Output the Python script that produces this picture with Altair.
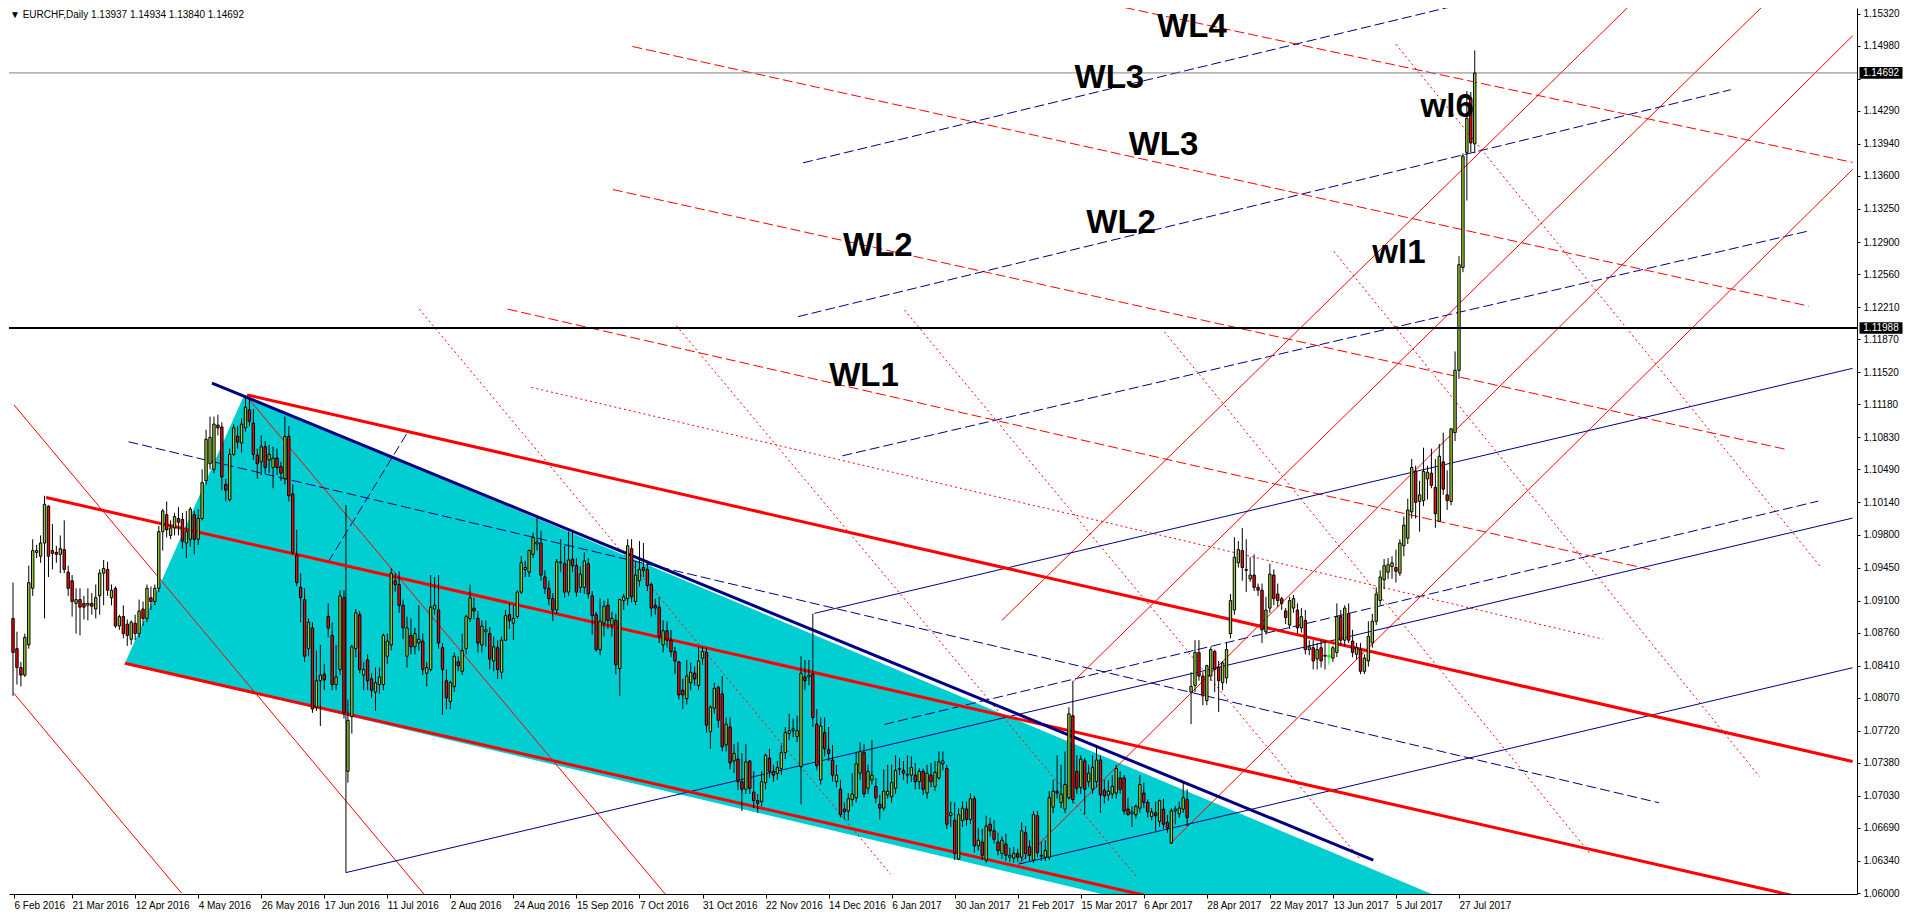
import altair as alt
import pandas as pd

# ---------------- data ----------------
# daily candles, bar index 1..372; prices given as 1/10000 above 1.0000 (price = 1 + v/10000)
OPEN = [
    891, 859, 839, 831, 863, 923, 961, 957, 971, 1010,
    963, 961, 959, 964, 940, 931, 907, 911, 907, 905,
    907, 901, 915, 939, 943, 913, 923, 883, 893, 885,
    869, 886, 875, 901, 891, 913, 909, 923, 983, 1001,
    979, 987, 997, 996, 971, 975, 1001, 975, 997, 1037,
    1055, 1049, 1096, 1094, 1033, 1017, 1065, 1084, 1077, 1093,
    1112, 1098, 1064, 1057, 1073, 1059, 1051, 1061, 1052, 1039,
    1084, 1023, 958, 924, 911, 859, 881, 797, 825, 832,
    893, 873, 821, 837, 913, 729, 787, 859, 895, 831,
    847, 827, 813, 821, 821, 851, 863, 931, 927, 905,
    851, 873, 861, 865, 867, 833, 837, 901, 900, 860,
    825, 803, 819, 845, 835, 859, 891, 902, 891, 863,
    877, 875, 846, 860, 834, 868, 895, 886, 893, 919,
    943, 940, 959, 970, 971, 935, 923, 912, 900, 950,
    949, 919, 954, 947, 924, 924, 949, 915, 895, 858,
    886, 905, 884, 889, 838, 910, 912, 965, 909, 931,
    945, 943, 927, 905, 903, 863, 878, 868, 856, 845,
    815, 806, 823, 833, 820, 849, 855, 771, 796, 818,
    811, 757, 776, 740, 742, 718, 710, 740, 707, 698,
    697, 717, 743, 729, 727, 732, 749, 769, 772, 766,
    734, 829, 829, 832, 779, 720, 770, 752, 741, 718,
    710, 689, 687, 699, 701, 727, 749, 711, 720, 713,
    694, 690, 704, 702, 711, 731, 730, 726, 725, 725,
    718, 729, 706, 725, 713, 722, 737, 732, 682, 677,
    636, 677, 689, 678, 700, 650, 654, 635, 673, 666,
    654, 642, 652, 638, 637, 642, 638, 664, 649, 635,
    682, 639, 638, 638, 691, 708, 696, 689, 701, 788,
    729, 712, 740, 718, 710, 718, 741, 709, 704, 705,
    706, 722, 722, 689, 684, 683, 690, 706, 696, 681,
    685, 676, 689, 675, 653, 687, 684, 689, 699, 813,
    820, 855, 830, 804, 830, 856, 839, 823, 828, 875,
    900, 950, 963, 943, 933, 937, 924, 921, 877, 902,
    937, 917, 912, 899, 884, 902, 900, 881, 889, 858,
    860, 848, 860, 851, 850, 849, 855, 893, 868, 896,
    867, 853, 858, 835, 846, 865, 888, 910, 932, 940,
    946, 945, 939, 968, 976, 1004, 1047, 1015, 1016, 1039,
    1045, 1030, 994, 1057, 1022, 1015, 1088, 1154, 1263, 1385,
    1442, 1394,
]
HIGH = [
    929, 877, 845, 875, 947, 975, 969, 979, 1021, 1011,
    991, 968, 979, 995, 947, 937, 923, 923, 915, 923,
    918, 927, 943, 953, 951, 927, 925, 895, 905, 890,
    889, 895, 911, 909, 927, 925, 927, 989, 1007, 1015,
    995, 1003, 1009, 1003, 1005, 1009, 1005, 1007, 1049, 1091,
    1105, 1105, 1107, 1099, 1039, 1071, 1097, 1095, 1103, 1127,
    1125, 1113, 1071, 1085, 1079, 1075, 1073, 1071, 1057, 1105,
    1095, 1033, 985, 939, 923, 891, 887, 857, 863, 843,
    907, 887, 863, 921, 921, 805, 863, 901, 899, 845,
    853, 833, 839, 839, 875, 875, 944, 939, 941, 911,
    893, 891, 881, 905, 875, 845, 937, 935, 937, 865,
    837, 825, 855, 851, 875, 895, 927, 913, 899, 889,
    889, 882, 872, 868, 872, 900, 907, 905, 921, 957,
    952, 964, 982, 999, 984, 942, 931, 918, 954, 975,
    968, 983, 983, 955, 946, 961, 955, 920, 898, 912,
    910, 912, 898, 896, 912, 917, 975, 975, 952, 973,
    971, 952, 929, 912, 914, 889, 888, 879, 861, 846,
    827, 847, 844, 840, 861, 861, 860, 799, 823, 820,
    830, 786, 786, 758, 760, 748, 758, 741, 729, 705,
    729, 748, 753, 736, 740, 757, 776, 790, 785, 788,
    851, 847, 847, 896, 795, 786, 786, 776, 757, 736,
    720, 696, 706, 727, 750, 760, 758, 736, 762, 722,
    704, 731, 736, 736, 746, 743, 740, 746, 745, 738,
    732, 732, 736, 738, 740, 750, 750, 736, 697, 696,
    690, 697, 697, 706, 703, 669, 668, 682, 680, 677,
    664, 660, 663, 648, 649, 647, 675, 671, 656, 687,
    687, 654, 656, 708, 720, 746, 736, 750, 797, 825,
    746, 746, 743, 736, 746, 757, 746, 720, 720, 725,
    736, 729, 725, 701, 692, 694, 725, 717, 699, 690,
    697, 699, 700, 683, 690, 692, 697, 718, 710, 834,
    868, 868, 834, 842, 861, 858, 846, 846, 865, 917,
    977, 973, 987, 975, 956, 959, 928, 928, 914, 949,
    943, 928, 914, 902, 914, 916, 907, 902, 900, 868,
    868, 865, 868, 868, 865, 862, 907, 900, 905, 907,
    879, 865, 865, 853, 888, 896, 924, 942, 954, 955,
    957, 964, 975, 999, 1018, 1060, 1053, 1037, 1072, 1053,
    1071, 1060, 1076, 1088, 1048, 1093, 1174, 1275, 1384, 1450,
    1449, 1493,
]
LOW = [
    809, 821, 819, 829, 859, 915, 955, 950, 891, 935,
    943, 950, 939, 939, 915, 893, 875, 873, 890, 889,
    895, 891, 895, 905, 915, 905, 881, 879, 870, 862,
    863, 868, 871, 883, 887, 900, 905, 919, 963, 977,
    975, 979, 979, 965, 955, 967, 959, 969, 995, 1033,
    1049, 1045, 1085, 1027, 1015, 1015, 1063, 1071, 1067, 1089,
    1095, 1059, 1039, 1043, 1045, 1045, 1029, 1043, 1037, 1033,
    1015, 959, 925, 887, 845, 851, 791, 793, 777, 815,
    871, 815, 815, 831, 785, 717, 769, 850, 833, 815,
    815, 807, 793, 811, 815, 843, 857, 919, 897, 869,
    839, 853, 853, 857, 831, 819, 835, 895, 859, 789,
    795, 795, 813, 835, 831, 853, 887, 890, 855, 855,
    861, 837, 835, 827, 827, 867, 880, 868, 891, 917,
    935, 935, 955, 963, 931, 917, 905, 888, 896, 940,
    913, 915, 940, 914, 918, 917, 912, 874, 856, 852,
    872, 880, 872, 832, 809, 900, 905, 908, 905, 925,
    935, 920, 893, 895, 865, 855, 860, 850, 832, 805,
    795, 800, 815, 820, 815, 842, 770, 753, 790, 775,
    750, 750, 731, 727, 709, 687, 705, 705, 690, 685,
    692, 710, 722, 718, 720, 725, 742, 762, 765, 760,
    694, 815, 820, 776, 730, 715, 745, 740, 718, 712,
    680, 678, 677, 692, 696, 720, 701, 705, 715, 695,
    678, 687, 700, 696, 705, 725, 720, 716, 718, 710,
    710, 704, 700, 712, 708, 720, 730, 668, 670, 635,
    635, 670, 671, 673, 643, 645, 635, 632, 660, 652,
    640, 636, 634, 633, 632, 633, 634, 636, 634, 632,
    638, 634, 634, 635, 685, 700, 690, 685, 699, 695,
    705, 705, 683, 712, 705, 712, 685, 695, 698, 700,
    700, 705, 683, 682, 670, 679, 685, 690, 680, 677,
    666, 670, 668, 664, 652, 673, 680, 685, 671, 779,
    813, 825, 799, 799, 825, 813, 792, 815, 822, 870,
    895, 945, 931, 919, 930, 920, 915, 865, 874, 897,
    905, 903, 900, 885, 880, 897, 875, 876, 853, 852,
    837, 837, 839, 837, 842, 845, 850, 862, 862, 865,
    850, 848, 832, 832, 840, 860, 884, 905, 922, 933,
    933, 929, 936, 957, 970, 997, 997, 983, 1010, 1017,
    1029, 987, 994, 1022, 1006, 1011, 1079, 1145, 1258, 1334,
    1385, 1384,
]
CLOSE = [
    855, 839, 831, 871, 929, 963, 963, 971, 1012, 957,
    960, 959, 965, 943, 923, 909, 911, 903, 903, 907,
    904, 913, 939, 944, 921, 921, 883, 893, 875, 873,
    887, 875, 899, 891, 923, 909, 923, 983, 1005, 985,
    987, 999, 993, 973, 983, 1007, 975, 997, 1035, 1081,
    1083, 1097, 1093, 1041, 1027, 1065, 1093, 1078, 1097, 1115,
    1100, 1065, 1055, 1073, 1051, 1065, 1061, 1051, 1045, 1084,
    1021, 961, 929, 913, 851, 887, 795, 825, 831, 826,
    881, 821, 829, 915, 791, 783, 861, 897, 837, 837,
    825, 815, 823, 829, 873, 867, 939, 927, 905, 881,
    881, 861, 875, 869, 837, 839, 903, 905, 865, 837,
    807, 823, 851, 841, 857, 893, 913, 899, 865, 883,
    879, 848, 861, 837, 868, 894, 889, 891, 919, 950,
    945, 963, 977, 972, 937, 923, 912, 900, 951, 951,
    919, 953, 947, 919, 938, 952, 917, 894, 858, 888,
    904, 889, 891, 842, 911, 914, 968, 914, 937, 943,
    942, 926, 902, 902, 872, 878, 868, 856, 846, 810,
    810, 830, 834, 827, 846, 856, 778, 797, 817, 783,
    755, 779, 738, 748, 718, 710, 739, 711, 698, 695,
    718, 746, 729, 725, 733, 749, 770, 772, 774, 772,
    833, 825, 831, 786, 735, 777, 753, 748, 725, 725,
    683, 686, 700, 705, 737, 750, 705, 729, 725, 701,
    690, 708, 708, 717, 730, 732, 727, 725, 733, 718,
    729, 710, 727, 718, 728, 739, 740, 673, 685, 642,
    683, 690, 678, 700, 650, 656, 640, 671, 666, 657,
    645, 656, 640, 640, 642, 638, 666, 642, 640, 683,
    643, 640, 645, 701, 708, 706, 705, 715, 790, 699,
    711, 742, 710, 727, 733, 741, 704, 703, 708, 713,
    732, 710, 687, 683, 686, 692, 715, 696, 686, 686,
    682, 698, 673, 669, 687, 689, 690, 701, 680, 819,
    855, 830, 809, 841, 858, 837, 825, 844, 858, 910,
    956, 964, 945, 942, 937, 924, 921, 879, 900, 938,
    912, 910, 907, 892, 910, 912, 881, 893, 858, 861,
    846, 858, 846, 852, 852, 860, 893, 868, 902, 868,
    855, 860, 835, 849, 872, 888, 917, 935, 947, 948,
    950, 941, 971, 990, 1006, 1051, 1014, 1022, 1047, 1046,
    1032, 1002, 1063, 1028, 1016, 1092, 1154, 1266, 1381, 1421,
    1395, 1469,
]
HIGHLIGHT_BARS = [335]

DATE_TICK_POS = [1.25, 16, 32, 48, 64, 80, 96, 112, 128, 144, 160, 176, 192,
                 208, 224, 240, 256, 272, 288, 304, 320, 336, 352, 368]
DATE_TICK_TEXT = ["6 Feb 2016", "21 Mar 2016", "12 Apr 2016", "4 May 2016", "26 May 2016",
                  "17 Jun 2016", "11 Jul 2016", "2 Aug 2016", "24 Aug 2016", "15 Sep 2016",
                  "7 Oct 2016", "31 Oct 2016", "22 Nov 2016", "14 Dec 2016", "6 Jan 2017",
                  "30 Jan 2017", "21 Feb 2017", "15 Mar 2017", "6 Apr 2017", "28 Apr 2017",
                  "22 May 2017", "13 Jun 2017", "5 Jul 2017", "27 Jul 2017"]
PRICE_TICKS = [1.06000, 1.06340, 1.06690, 1.07030, 1.07380, 1.07720, 1.08070, 1.08410,
               1.08760, 1.09100, 1.09450, 1.09800, 1.10140, 1.10490, 1.10830, 1.11180,
               1.11520, 1.11870, 1.12210, 1.12560, 1.12900, 1.13250, 1.13600, 1.13940,
               1.14290, 1.14630, 1.14980, 1.15320]
# tick whose label sits under the current-price box
HIDDEN_PRICE_LABEL = 1.14630

# trend-line objects: (style, bar1, price1, bar2, price2)
LINES = [
    ("thick_navy", 51.5, 1.11404, 346.25, 1.06349),
    ("thick_red", 60.4, 1.11280, 467.9, 1.07395),
    ("thick_red", 9.4, 1.10193, 467.9, 1.05829),
    ("thick_red", 29.4, 1.08435, 287.9, 1.05979),
    ("navy_solid", 85.5, 1.06217, 467.9, 1.09974),
    ("navy_solid", 204.4, 1.08964, 467.9, 1.11561),
    ("navy_solid", 256.25, 1.06307, 467.9, 1.08388),
    ("navy_dash", 201.5, 1.13739, 383.75, 1.15572),
    ("navy_dash", 200.25, 1.12109, 437.0, 1.14514),
    ("navy_dash", 211.5, 1.10634, 457.25, 1.13022),
    ("navy_dash", 222.15, 1.07787, 459.2, 1.10154),
    ("navy_dash", 30.3, 1.10783, 418.75, 1.06957),
    ("navy_dash", 81.0, 1.09508, 101.25, 1.10891),
    ("red_dash", 276.25, 1.15446, 467.9, 1.13744),
    ("red_dash", 158.2, 1.14972, 456.75, 1.12221),
    ("red_dash", 153.25, 1.13456, 451.25, 1.10700),
    ("red_dash", 126.5, 1.12189, 417.0, 1.09424),
    ("red_dot", 132.6, 1.11359, 404.5, 1.08691),
    ("red_dot", 104.1, 1.12189, 223.75, 1.06199),
    ("red_dot", 169.35, 1.12014, 286.25, 1.06168),
    ("red_dot", 227.25, 1.12179, 343.0, 1.06356),
    ("red_dot", 293.25, 1.11948, 401.25, 1.06419),
    ("red_dot", 336.25, 1.12800, 444.25, 1.07236),
    ("red_dot", 352.0, 1.14996, 460.0, 1.09445),
    ("red_thin", 252.0, 1.08890, 410.75, 1.15383),
    ("red_thin", 270.4, 1.08252, 444.7, 1.15383),
    ("red_thin", 256.25, 1.06307, 467.9, 1.15085),
    ("red_thin", 295.4, 1.06552, 467.9, 1.13669),
    ("red_thin", 1.25, 1.11173, 105.5, 1.05979),
    ("red_thin", 1.25, 1.08115, 43.75, 1.06000),
    ("red_thin", 60.4, 1.11257, 166.75, 1.05979),
    ("black_thin", 85.5, 1.10113, 85.5, 1.06217),
]

# filled triangle object (three vertices: bar, price)
TRIANGLE = [(29.4, 1.08435), (59.6, 1.11273), (469.0, 1.04098)]

HLINE_BLACK = 1.11988
HLINE_GREY = 1.14692

LABEL_TEXT = ["WL4", "WL3", "WL3", "WL2", "WL2", "WL1", "wl1", "wl6"]
LABEL_BAR = [300.25, 279.25, 293.0, 282.25, 220.5, 217.0, 352.75, 365.0]
LABEL_PRICE = [1.15174, 1.14640, 1.13928, 1.13100, 1.12859, 1.11477, 1.12786, 1.14326]

TITLE = "\u25BC EURCHF,Daily  1.13937 1.14934 1.13840 1.14692"

# ---------------- build chart ----------------
W, H = 1848, 886

n = len(OPEN)
bars = pd.DataFrame({
    "i": list(range(1, n + 1)),
    "o": [1 + v / 10000 for v in OPEN],
    "h": [1 + v / 10000 for v in HIGH],
    "l": [1 + v / 10000 for v in LOW],
    "c": [1 + v / 10000 for v in CLOSE],
})
bars["kind"] = [
    "sel" if i in HIGHLIGHT_BARS else ("up" if c >= o else "down")
    for i, o, c in zip(bars["i"], bars["o"], bars["c"])
]

rows = []
for k, (style, i1, p1, i2, p2) in enumerate(LINES):
    rows.append({"id": k, "style": style, "seq": 0, "i": i1, "p": p1})
    rows.append({"id": k, "style": style, "seq": 1, "i": i2, "p": p2})
lines = pd.DataFrame(rows)

(ax, ay), (bx, by), (cx, cy) = TRIANGLE
low_at_b = ay + (bx - ax) / (cx - ax) * (cy - ay)
tri = pd.DataFrame({"i": [ax, bx, cx], "top": [ay, by, cy], "bot": [ay, low_at_b, cy]})

labels = pd.DataFrame({"t": LABEL_TEXT, "i": LABEL_BAR, "p": LABEL_PRICE})
boxes = pd.DataFrame({"p": [HLINE_GREY, HLINE_BLACK], "t": [f"{HLINE_GREY:.5f}", f"{HLINE_BLACK:.5f}"]})
title_df = pd.DataFrame({"t": [TITLE]})

expr = "''"
for pos, txt in reversed(list(zip(DATE_TICK_POS, DATE_TICK_TEXT))):
    expr = f"datum.value == {pos} ? '{txt}' : ({expr})"

y_label_expr = f"abs(datum.value - {HIDDEN_PRICE_LABEL}) < 0.00001 ? '' : format(datum.value, '.5f')"

xscale = alt.Scale(domain=[1.25, 467.75], nice=False, zero=False)
yscale = alt.Scale(domain=[1.0599, 1.1538], nice=False, zero=False)
xaxis = alt.Axis(values=DATE_TICK_POS, labelExpr=expr, title=None, orient="bottom",
                 labelAlign="left", labelBaseline="top", labelPadding=2, tickSize=4,
                 labelOverlap=False, labelFlush=False, grid=False,
                 domainColor="black", tickColor="black", labelColor="black",
                 labelFont="Liberation Sans", labelFontSize=10)
yaxis = alt.Axis(values=PRICE_TICKS, labelExpr=y_label_expr, title=None, orient="right",
                 tickSize=3, labelPadding=3, labelOverlap=False, labelFlush=False, grid=False,
                 domainColor="black", tickColor="black", labelColor="black",
                 labelFont="Liberation Sans", labelFontSize=10)


def X(f="i"):
    return alt.X(f"{f}:Q", scale=xscale, axis=xaxis)


def Y(f):
    return alt.Y(f"{f}:Q", scale=yscale, axis=yaxis)


layers = []
layers.append(
    alt.Chart(tri).mark_area(color="#00CED1", opacity=1, clip=True)
    .encode(x=X("i"), y=Y("top"), y2="bot")
)

STYLES = [
    ("red_dot", dict(color="#FF0000", strokeWidth=1, strokeDash=[2, 3])),
    ("red_dash", dict(color="#FF0000", strokeWidth=1, strokeDash=[10, 4])),
    ("navy_dash", dict(color="#000080", strokeWidth=1, strokeDash=[10, 4])),
    ("red_thin", dict(color="#FF0000", strokeWidth=1)),
    ("navy_solid", dict(color="#000080", strokeWidth=1)),
    ("black_thin", dict(color="#000000", strokeWidth=1)),
    ("thick_red", dict(color="#FF0000", strokeWidth=3)),
    ("thick_navy", dict(color="#000080", strokeWidth=3)),
]
for style, props in STYLES:
    sub = lines[lines["style"] == style]
    layers.append(
        alt.Chart(sub).mark_line(clip=True, **props)
        .encode(x=X("i"), y=Y("p"), detail="id:N", order="seq:Q")
    )

layers.append(
    alt.Chart(pd.DataFrame({"p": [HLINE_GREY]})).mark_rule(color="#808080", strokeWidth=1)
    .encode(y=Y("p"))
)

sel_cond = "datum.kind == 'sel'"
layers.append(
    alt.Chart(bars).mark_rule(strokeWidth=1, clip=True)
    .encode(x=X("i"), y=Y("l"), y2="h",
            color=alt.condition(sel_cond, alt.value("#00FF00"), alt.value("#000000")))
)
layers.append(
    alt.Chart(bars).mark_bar(width=2.4, strokeWidth=1, clip=True)
    .encode(x=X("i"), y=Y("o"), y2="c",
            fill=alt.Fill("kind:N", scale=alt.Scale(domain=["up", "down", "sel"],
                                                    range=["#9ACD32", "#FF0000", "#00FF00"]),
                          legend=None),
            stroke=alt.condition(sel_cond, alt.value("#00FF00"), alt.value("#000000")))
)

layers.append(
    alt.Chart(pd.DataFrame({"p": [HLINE_BLACK]})).mark_rule(color="#000000", strokeWidth=2)
    .encode(y=Y("p"))
)

layers.append(
    alt.Chart(labels).mark_text(font="Liberation Sans", fontSize=33, fontWeight="bold",
                                color="#000000", align="center", baseline="middle")
    .encode(x=X("i"), y=Y("p"), text="t:N")
)

box_shape = "M-1,-0.27L1,-0.27L1,0.27L-1,0.27Z"
layers.append(
    alt.Chart(boxes).mark_point(shape=box_shape, size=1850, filled=True, color="#000000",
                                opacity=1, strokeWidth=0)
    .encode(x=alt.value(W + 24), y=Y("p"))
)
layers.append(
    alt.Chart(boxes).mark_text(color="#FFFFFF", font="Liberation Sans", fontSize=10,
                               align="center", baseline="middle")
    .encode(x=alt.value(W + 24), y=Y("p"), text="t:N")
)
layers.append(
    alt.Chart(title_df).mark_text(align="left", baseline="top", font="Liberation Sans",
                                  fontSize=10, color="#000000")
    .encode(x=alt.value(1), y=alt.value(2), text="t:N")
)

chart = (
    alt.layer(*layers)
    .properties(width=W, height=H, padding={"left": 0, "top": 0, "right": 0, "bottom": 0},
                background="white")
    .configure_view(stroke=None)
)

chart.save("out.html", embed_options={"renderer": "svg", "actions": False})
